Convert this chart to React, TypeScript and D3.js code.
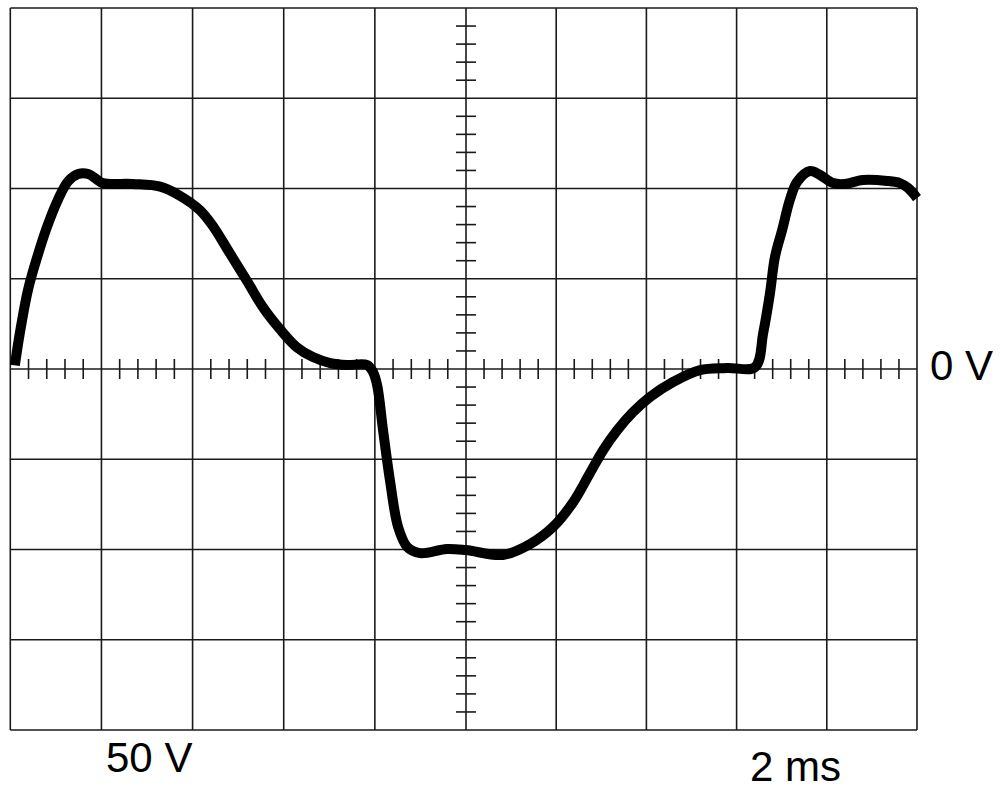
import React, { useEffect, useRef } from 'react'
import * as d3 from 'd3'

// trace, 2 ms / div horizontally, 50 V / div vertically
const timeMs = [
  0.10, 0.21, 0.39, 0.59, 0.81, 1.05, 1.27, 1.49, 1.71, 1.90, 2.03, 2.69, 3.29, 3.72,
  4.16, 4.45, 4.82, 5.19, 5.55, 5.92, 6.29, 6.64, 7.02, 7.39, 7.83, 7.96, 8.05, 8.18,
  8.33, 8.51, 8.71, 8.99, 9.58, 10.00, 10.82, 11.42, 11.93, 12.37, 12.75, 13.04, 13.35,
  13.70, 14.08, 14.59, 15.19, 15.79, 16.41, 16.59, 16.74, 16.85, 17.01, 17.18, 17.34,
  17.63, 17.85, 18.14, 18.40, 18.80, 19.34, 19.62, 19.80, 20.00,
]
const volts = [
  2, 20, 44, 62, 79, 94, 104, 108, 108, 105, 103, 102.5, 101, 96,
  88, 79, 64, 49, 34, 22, 12, 6.6, 3.3, 2.2, 2.2, -1.7, -8.9, -34,
  -61.5, -87.5, -98.6, -102, -99.7, -100.3, -103, -97, -87.5, -74, -57.6, -45, -34,
  -24, -15.5, -7.2, -0.6, 0.6, 1.1, 20, 42, 62, 77, 93.6, 103.6,
  109.7, 107.5, 103, 102.5, 104.7, 104.2, 103, 100.3, 94.7,
]

const xDivs = d3.range(0, 11)
const yDivs = d3.range(0, 9)
const minorPerDiv = 5

const zeroLabel = '0 V'
const voltLabel = '50 V'
const timeLabel = '2 ms'

const W = 1000
const H = 790

export default function App() {
  const ref = useRef<SVGSVGElement>(null)

  useEffect(() => {
    const svg = d3.select(ref.current)
    svg.selectAll('*').remove()

    // screen in ms / volts
    const x = d3.scaleLinear().domain([0, 10, 20]).range([10.3, 466, 917])
    const y = d3.scaleLinear().domain([-200, 200]).range([730, 8])
    const gridColor = '#1a1a1a'

    const g = svg.append('g')

    // major grid
    g.selectAll('.vline')
      .data(xDivs)
      .enter().append('line')
      .attr('x1', d => x(d * 2)).attr('x2', d => x(d * 2))
      .attr('y1', y(200)).attr('y2', y(-200))
      .attr('stroke', gridColor).attr('stroke-width', 1.6)

    g.selectAll('.hline')
      .data(yDivs)
      .enter().append('line')
      .attr('y1', d => y(200 - d * 50)).attr('y2', d => y(200 - d * 50))
      .attr('x1', x(0)).attr('x2', x(20))
      .attr('stroke', gridColor).attr('stroke-width', 1.6)

    // minor ticks on the centre axes
    const xMinor = d3.range(0, 10 * minorPerDiv + 1)
      .filter(i => i % minorPerDiv !== 0)
      .map(i => (i / minorPerDiv) * 2)
    g.selectAll('.xtick')
      .data(xMinor)
      .enter().append('line')
      .attr('x1', d => x(d)).attr('x2', d => x(d))
      .attr('y1', y(0) - 10).attr('y2', y(0) + 10)
      .attr('stroke', gridColor).attr('stroke-width', 1.6)

    const yMinor = d3.range(0, 8 * minorPerDiv + 1)
      .filter(i => i % minorPerDiv !== 0)
      .map(i => 200 - (i / minorPerDiv) * 50)
    g.selectAll('.ytick')
      .data(yMinor)
      .enter().append('line')
      .attr('y1', d => y(d)).attr('y2', d => y(d))
      .attr('x1', x(10) - 10).attr('x2', x(10) + 10)
      .attr('stroke', gridColor).attr('stroke-width', 1.6)

    // trace
    const pts: [number, number][] = timeMs.map((t, i) => [t, volts[i]])
    const line = d3.line<[number, number]>()
      .x(d => x(d[0]))
      .y(d => y(d[1]))
      .curve(d3.curveCatmullRom.alpha(0.5))

    g.append('path')
      .datum(pts)
      .attr('d', line)
      .attr('fill', 'none')
      .attr('stroke', '#000')
      .attr('stroke-width', 10)
      .attr('stroke-linejoin', 'round')
      .attr('stroke-linecap', 'butt')

    // labels
    const font = '"Liberation Sans", Arial, sans-serif'
    const addText = (txt: string, tx: number, ty: number) =>
      svg.append('text')
        .attr('x', tx).attr('y', ty)
        .attr('font-family', font)
        .attr('font-size', 42)
        .attr('fill', '#000')
        .text(txt)

    addText(zeroLabel, 930, 380)
    addText(voltLabel, 106, 772)
    addText(timeLabel, 750, 781)
  }, [])

  return (
    <svg
      ref={ref}
      width={W}
      height={H}
      style={{ position: 'absolute', left: 0, top: 0, background: '#fff', display: 'block' }}
    />
  )
}
